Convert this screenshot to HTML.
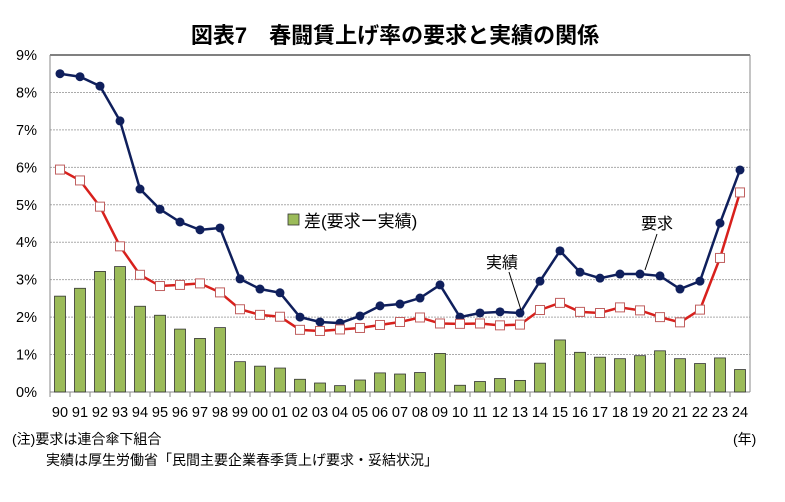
<!DOCTYPE html>
<html><head><meta charset="utf-8"><style>
body{margin:0;background:#fff;width:785px;height:497px;overflow:hidden}
svg{font-family:"Liberation Sans","Noto Sans CJK JP",sans-serif}
</style></head><body>
<svg id="s" width="785" height="497" xmlns="http://www.w3.org/2000/svg"></svg>
<script>
const req=[8.5,8.42,8.17,7.24,5.42,4.88,4.54,4.33,4.38,3.02,2.75,2.65,2.0,1.87,1.84,2.03,2.30,2.35,2.51,2.86,2.0,2.11,2.14,2.11,2.96,3.77,3.2,3.04,3.15,3.15,3.1,2.75,2.96,4.51,5.93];
const act=[5.94,5.65,4.95,3.89,3.13,2.83,2.86,2.90,2.66,2.21,2.06,2.01,1.66,1.63,1.67,1.71,1.79,1.87,1.99,1.83,1.82,1.83,1.78,1.80,2.19,2.38,2.14,2.11,2.26,2.18,2.00,1.86,2.20,3.58,5.33];
const dif=[2.56,2.77,3.22,3.35,2.29,2.05,1.68,1.43,1.72,0.81,0.69,0.64,0.34,0.24,0.17,0.32,0.51,0.48,0.52,1.03,0.18,0.28,0.36,0.31,0.77,1.39,1.06,0.93,0.89,0.97,1.10,0.89,0.76,0.91,0.60];
const L=50,R=750,T=55,B=392,k=(B-T)/9;
const X=i=>60+20*i,Y=v=>B-v*k;
let h='';
h+=`<text x="395" y="43" text-anchor="middle" font-size="22" font-weight="bold">図表7　春闘賃上げ率の要求と実績の関係</text>`;
for(let i=0;i<=9;i++){const y=Y(i);
 if(i>0&&i<9)h+=`<line x1="${L}" x2="${R}" y1="${y}" y2="${y}" stroke="#aaa" stroke-dasharray="2,1"/>`;
 h+=`<text x="37" y="${y+5}" text-anchor="end" font-size="14.5">${i}%</text>`;}
h+=`<line x1="${L}" x2="${R}" y1="${T}" y2="${T}" stroke="#000"/>`;
h+=`<line x1="${L}" x2="${L}" y1="${T}" y2="${B}" stroke="#888"/><line x1="${R}" x2="${R}" y1="${T}" y2="${B}" stroke="#888"/>`;
h+=`<line x1="${L}" x2="${R}" y1="${B}" y2="${B}" stroke="#888"/>`;
const lab=[90,91,92,93,94,95,96,97,98,99,'00','01','02','03','04','05','06','07','08','09',10,11,12,13,14,15,16,17,18,19,20,21,22,23,24];
for(let i=0;i<35;i++){
 h+=`<line x1="${L+20*i}" x2="${L+20*i}" y1="${B}" y2="${B+5}" stroke="#888"/>`;
 h+=`<text x="${X(i)}" y="${B+25}" text-anchor="middle" font-size="14.5">${lab[i]}</text>`;
 h+=`<rect x="${X(i)-5.5}" y="${Y(dif[i])}" width="11" height="${dif[i]*k}" fill="#9bbb59" stroke="#333" stroke-width="0.8"/>`;}
h+=`<polyline fill="none" stroke="#0f1f5c" stroke-width="2.5" points="${req.map((v,i)=>X(i)+','+Y(v)).join(' ')}"/>`;
h+=`<polyline fill="none" stroke="#d8201c" stroke-width="2.5" points="${act.map((v,i)=>X(i)+','+Y(v)).join(' ')}"/>`;
req.forEach((v,i)=>h+=`<circle cx="${X(i)}" cy="${Y(v)}" r="4.5" fill="#0f1f5c"/>`);
act.forEach((v,i)=>h+=`<rect x="${X(i)-4.5}" y="${Y(v)-4.5}" width="9" height="9" fill="#fff" stroke="#c06060" stroke-width="1"/>`);
h+=`<rect x="288" y="214" width="11" height="11" fill="#9bbb59" stroke="#333" stroke-width="0.8"/>`;
h+=`<text x="304" y="227" font-size="17">差(要求ー実績)</text>`;
h+=`<text x="486" y="268" font-size="16">実績</text><line x1="509" y1="272" x2="521" y2="310" stroke="#000"/>`;
h+=`<text x="641" y="229" font-size="16">要求</text><line x1="657" y1="234" x2="645" y2="270" stroke="#000"/>`;
h+=`<text x="12" y="444" font-size="14">(注)要求は連合傘下組合</text>`;
h+=`<text x="46" y="465" font-size="14">実績は厚生労働省「民間主要企業春季賃上げ要求・妥結状況」</text>`;
h+=`<text x="733" y="444" font-size="14">(年)</text>`;
document.getElementById('s').innerHTML=h;
</script>
</body></html>
